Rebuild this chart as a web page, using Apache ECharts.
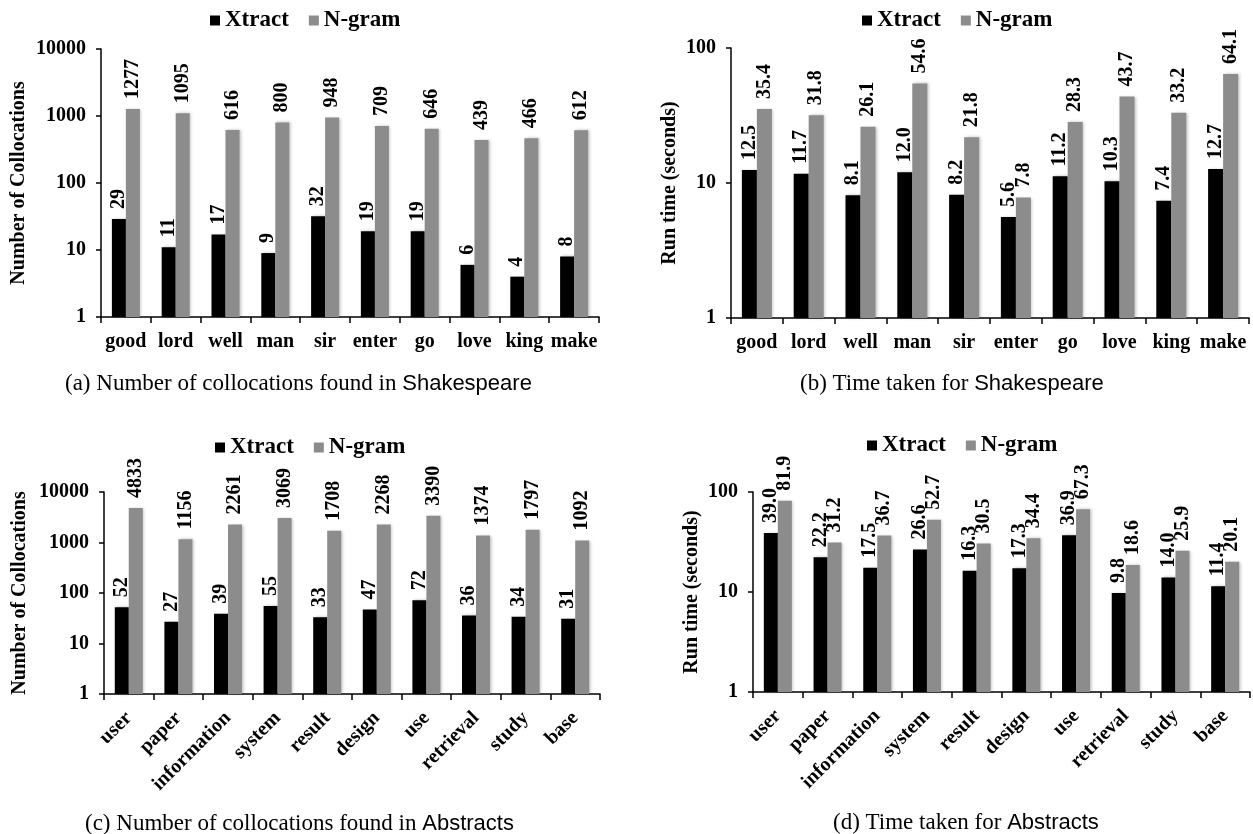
<!DOCTYPE html>
<html>
<head>
<meta charset="utf-8">
<script src="https://cdn.jsdelivr.net/npm/echarts@6/dist/echarts.min.js"></script>
<style>
  html, body { margin: 0; padding: 0; background: #fff; }
  #main { width: 1253px; height: 834px; }
</style>
</head>
<body>
<div id="main"></div>
<script>
// data
var shakeWords = ['good', 'lord', 'well', 'man', 'sir', 'enter', 'go', 'love', 'king', 'make'];
var abstractWords = ['user', 'paper', 'information', 'system', 'result', 'design', 'use', 'retrieval', 'study', 'base'];

var shakeCountXtract = [29, 11, 17, 9, 32, 19, 19, 6, 4, 8];
var shakeCountNgram = [1277, 1095, 616, 800, 948, 709, 646, 439, 466, 612];

var shakeTimeXtract = [12.5, 11.7, 8.1, 12.0, 8.2, 5.6, 11.2, 10.3, 7.4, 12.7];
var shakeTimeNgram = [35.4, 31.8, 26.1, 54.6, 21.8, 7.8, 28.3, 43.7, 33.2, 64.1];

var absCountXtract = [52, 27, 39, 55, 33, 47, 72, 36, 34, 31];
var absCountNgram = [4833, 1156, 2261, 3069, 1708, 2268, 3390, 1374, 1797, 1092];

var absTimeXtract = [39.0, 22.2, 17.5, 26.6, 16.3, 17.3, 36.9, 9.8, 14.0, 11.4];
var absTimeNgram = [81.9, 31.2, 36.7, 52.7, 30.5, 34.4, 67.3, 18.6, 25.9, 20.1];

var serifFont = '"Liberation Serif", "Times New Roman", serif';
var sansFont = '"Liberation Sans", Arial, sans-serif';

var option = {
    backgroundColor: '#fff',
    animation: false,
    title: [],
    legend: [],
    grid: [],
    xAxis: [],
    yAxis: [],
    series: []
};

function addPanel(i, box, words, xtract, ngram, yName, yMax, decimals, rotate, barW, nameGap, legendPos, caption, capPos) {
    option.grid.push({ left: box[0], top: box[1], width: box[2], height: box[3], containLabel: false });

    option.xAxis.push({
        type: 'category',
        gridIndex: i,
        data: words,
        axisLine: { lineStyle: { color: '#000', width: 1.5 } },
        axisTick: { show: true, length: 6, lineStyle: { color: '#000', width: 1.5 } },
        axisLabel: {
            color: '#000', fontFamily: serifFont, fontWeight: 'bold', fontSize: 20,
            margin: rotate ? 21 : 15, rotate: rotate, interval: 0
        }
    });

    option.yAxis.push({
        type: 'log',
        logBase: 10,
        gridIndex: i,
        min: 1,
        max: yMax,
        name: yName,
        nameLocation: 'middle',
        nameGap: nameGap,
        nameTextStyle: { color: '#000', fontFamily: serifFont, fontWeight: 'bold', fontSize: 20 },
        axisLine: { show: true, lineStyle: { color: '#000', width: 1.5 } },
        axisTick: { show: true, length: 5, lineStyle: { color: '#000', width: 1.5 } },
        splitLine: { show: false },
        minorTick: { show: false },
        axisLabel: {
            color: '#000', fontFamily: serifFont, fontWeight: 'bold', fontSize: 20, margin: 15,
            formatter: function (v) { return String(Math.round(v)); }
        }
    });

    var lbl = {
        show: true,
        position: 'top',
        rotate: 90,
        align: 'left',
        verticalAlign: 'middle',
        distance: 10,
        color: '#000',
        fontFamily: serifFont,
        fontWeight: 'bold',
        fontSize: 20,
        formatter: function (p) { return decimals ? p.value.toFixed(decimals) : String(p.value); }
    };
    var soft = { shadowColor: 'rgba(0,0,0,0.25)', shadowBlur: 3, shadowOffsetX: 1.5 };

    option.series.push({
        name: 'Xtract', type: 'bar', xAxisIndex: i, yAxisIndex: i,
        data: xtract, barWidth: barW, barGap: '0%',
        itemStyle: Object.assign({ color: '#000' }, soft),
        label: lbl
    });
    option.series.push({
        name: 'N-gram', type: 'bar', xAxisIndex: i, yAxisIndex: i,
        data: ngram, barWidth: barW, barGap: '0%',
        itemStyle: Object.assign({ color: '#8c8c8c' }, soft),
        label: lbl
    });

    option.legend.push({
        data: ['Xtract', 'N-gram'],
        left: legendPos[0], top: legendPos[1],
        icon: 'rect', itemWidth: 10, itemHeight: 10, itemGap: 20,
        itemStyle: { shadowBlur: 0, shadowOffsetX: 0 },
        textStyle: { color: '#000', fontFamily: serifFont, fontWeight: 'bold', fontSize: 23 }
    });

    option.title.push({
        text: caption,
        left: capPos[0], top: capPos[1],
        textStyle: {
            fontWeight: 'normal',
            rich: {
                a: { fontFamily: serifFont, fontSize: 23, fontWeight: 'normal', color: '#000' },
                b: { fontFamily: sansFont, fontSize: 22, fontWeight: 'normal', color: '#000' }
            }
        }
    });
}

addPanel(0, [101, 49, 498, 268], shakeWords, shakeCountXtract, shakeCountNgram,
    'Number of Collocations', 10000, 0, 0, 14, 72, [205, 4],
    '{a|(a) Number of collocations found in }{b|Shakespeare}', [60, 367]);

addPanel(1, [731, 48, 518, 270], shakeWords, shakeTimeXtract, shakeTimeNgram,
    'Run time (seconds)', 100, 1, 0, 15, 51, [857, 4],
    '{a|(b) Time taken for }{b|Shakespeare}', [795, 367]);

addPanel(2, [104, 492, 496, 202], abstractWords, absCountXtract, absCountNgram,
    'Number of Collocations', 10000, 0, 45, 14, 74, [210, 431],
    '{a|(c) Number of collocations found in }{b|Abstracts}', [80, 807]);

addPanel(3, [753, 492, 497, 200], abstractWords, absTimeXtract, absTimeNgram,
    'Run time (seconds)', 100, 1, 45, 14, 51, [862, 429],
    '{a|(d) Time taken for }{b|Abstracts}', [828, 806]);

var myChart = echarts.init(document.getElementById('main'));
myChart.setOption(option);
</script>
</body>
</html>
